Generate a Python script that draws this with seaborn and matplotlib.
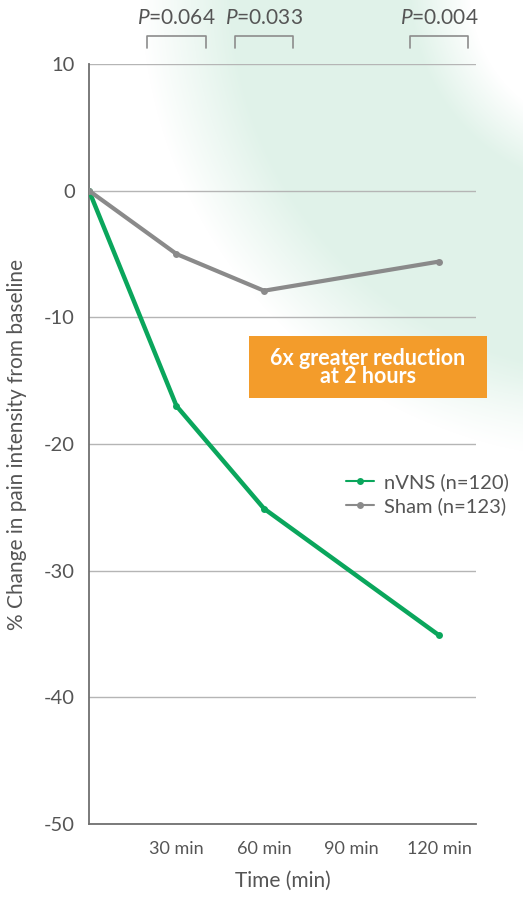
import numpy as np
import pandas as pd
import matplotlib.pyplot as plt
import seaborn as sns
from matplotlib.patches import Rectangle

# chart values
time_min = [0, 30, 60, 120]
nvns_change = [0, -17.0, -25.1, -35.1]
sham_change = [0, -5.0, -7.9, -5.6]
groups = ["nVNS (n=120)", "Sham (n=123)"]
tick_minutes = [30, 60, 90, 120]
tick_labels = ["30 min", "60 min", "90 min", "120 min"]
p_minutes = [30, 60, 120]
p_values = ["0.064", "0.033", "0.004"]

df = pd.DataFrame({
    "time": time_min * 2,
    "change": nvns_change + sham_change,
    "group": [groups[0]] * 4 + [groups[1]] * 4,
})

sns.set_theme(style="white")
plt.rcParams["font.family"] = ["Lato", "DejaVu Sans"]
plt.rcParams["axes.unicode_minus"] = False
plt.rcParams["mathtext.fontset"] = "custom"
plt.rcParams["mathtext.it"] = "Lato:italic"
plt.rcParams["mathtext.rm"] = "Lato"

text_grey = "#555555"
green = "#0aa65c"
grey = "#8a8a8a"

fig = plt.figure(figsize=(5.23, 8.97), dpi=100)

# soft green swoosh in the background
bg = fig.add_axes([0, 0, 1, 1], zorder=-5)
yy, xx = np.mgrid[0:897, 0:523]
r = np.hypot(xx - 610, yy + 10)
band = np.clip((r - 140) / 60, 0, 1) * np.clip((470 - r) / 90, 0, 1)
fade = np.clip(1 - (yy - 380) / 200, 0, 1)
alpha = 0.6 * band * fade
img = np.zeros((897, 523, 4))
img[..., 0], img[..., 1], img[..., 2] = 0.80, 0.92, 0.86
img[..., 3] = alpha
bg.imshow(img, aspect="auto")
bg.axis("off")

ax = fig.add_axes([89 / 523, 73 / 897, 387 / 523, 760 / 897])
ax.set_facecolor("none")

sns.lineplot(data=df, x="time", y="change", hue="group",
             palette=[green, grey], marker="o", markersize=5,
             markeredgewidth=0, ax=ax, zorder=3)
for line, lw in zip(ax.lines, [3.2, 3.0]):
    line.set_linewidth(lw)

ax.set_xlim(0, 132.7)
ax.set_ylim(-50, 10)
ax.set_yticks([10, 0, -10, -20, -30, -40, -50])
ax.set_xticks(tick_minutes)
ax.set_xticklabels(tick_labels)
ax.tick_params(axis="y", length=0, colors=text_grey, labelsize=14.5, pad=10)
ax.tick_params(axis="x", length=0, colors=text_grey, labelsize=13, pad=12)
ax.yaxis.grid(True, color="#b5b5b5", linewidth=1)
ax.set_axisbelow(True)
for side in ["top", "right"]:
    ax.spines[side].set_visible(False)
for side in ["left", "bottom"]:
    ax.spines[side].set_color("#707070")
    ax.spines[side].set_linewidth(1.3)

ax.set_xlabel("Time (min)", color=text_grey, fontsize=15, labelpad=10)
ax.set_ylabel("% Change in pain intensity from baseline", color=text_grey,
              fontsize=15, labelpad=12)

# P value brackets above the plot
for m, p in zip(p_minutes, p_values):
    ax.plot([m - 10, m - 10, m + 10, m + 10], [11.25, 12.2, 12.2, 11.25],
            color="#8c8c8c", linewidth=1.2, clip_on=False)
    ax.text(m, 13.6, r"$\mathit{P}$=" + p, ha="center", va="center",
            color=text_grey, fontsize=15)

# orange callout
ax.add_patch(Rectangle((54.9, -16.4), 81.5, 4.9, facecolor="#f39c2b",
                       edgecolor="none", clip_on=False, zorder=5))
ax.text(95.6, -13.95, "6x greater reduction\nat 2 hours", ha="center",
        va="center", color="white", fontsize=15.5, fontweight="bold",
        linespacing=0.85, zorder=6)

leg = ax.legend(loc="upper left", bbox_to_anchor=(328 / 523, 1 - 455 / 897),
                bbox_transform=fig.transFigure, frameon=False, fontsize=14.5,
                handlelength=1.4, handletextpad=0.5, labelspacing=0.3)
for t in leg.get_texts():
    t.set_color(text_grey)

fig.savefig("out.png", dpi=100)
